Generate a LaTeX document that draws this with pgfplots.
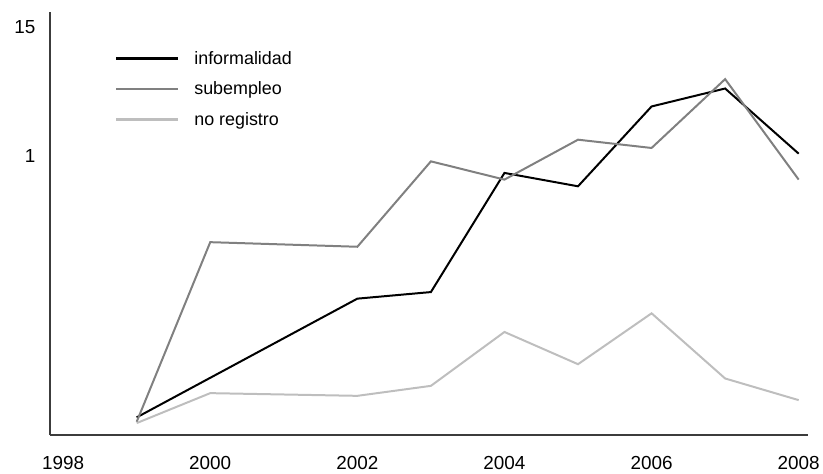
\documentclass[border=0pt]{standalone}
\usepackage{fontspec}
\setmainfont{Liberation Sans}
\usepackage{pgfplots}
\pgfplotsset{compat=1.18}
\definecolor{subgray}{RGB}{128,128,128}
\definecolor{nrgray}{RGB}{190,190,190}
\definecolor{axgray}{RGB}{60,60,60}
\begin{document}
\begin{tikzpicture}
\begin{axis}[
  name=ax,
  scale only axis, width=760bp, height=424bp,
  xmin=1997.82, xmax=2008.13, ymin=0, ymax=42.4,
  axis x line=bottom, axis y line=left,
  axis line style={-, axgray, line width=1.5bp},
  xtick={1998,2000,2002,2004,2006,2008},
  xticklabels={1998,2000,2002,2004,2006,2008},
  ytick={28.0,40.9}, yticklabels={1,15},
  major tick length=0pt,
  xticklabel style={yshift=-18bp, font=\fontsize{19}{22}\selectfont},
  yticklabel style={xshift=-11bp, font=\fontsize{19}{22}\selectfont},
  /pgf/number format/assume math mode=true,
  /pgf/number format/1000 sep={},
  legend cell align=left,
  legend style={draw=none, fill=none, at={(rel axis cs:0.0855,0.912)}, anchor=north west,
    inner sep=0pt, column sep=13bp, row sep=12bp, font=\fontsize{18}{21}\selectfont},
  legend image code/.code={\draw[#1, line width=2.6bp] (0bp,0bp) -- (62bp,0bp);},
]
\addplot[black, line width=2bp] coordinates {(1999,1.77)(2002,13.67)(2003,14.33)(2004,26.27)(2005,24.93)(2006,32.93)(2007,34.73)(2008,28.2)};
\addlegendentry{informalidad}
\addplot[subgray, line width=2bp] coordinates {(1999,1.33)(2000,19.33)(2002,18.87)(2003,27.43)(2004,25.6)(2005,29.6)(2006,28.77)(2007,35.67)(2008,25.6)};
\addlegendentry{subempleo}
\addplot[nrgray, line width=2bp] coordinates {(1999,1.2)(2000,4.2)(2002,3.93)(2003,4.93)(2004,10.33)(2005,7.1)(2006,12.2)(2007,5.67)(2008,3.5)};
\addlegendentry{no registro}
\end{axis}
\path ([shift={(-50bp,-39bp)}]ax.south west) rectangle ([shift={(13bp,12bp)}]ax.north east);
\end{tikzpicture}
\end{document}
